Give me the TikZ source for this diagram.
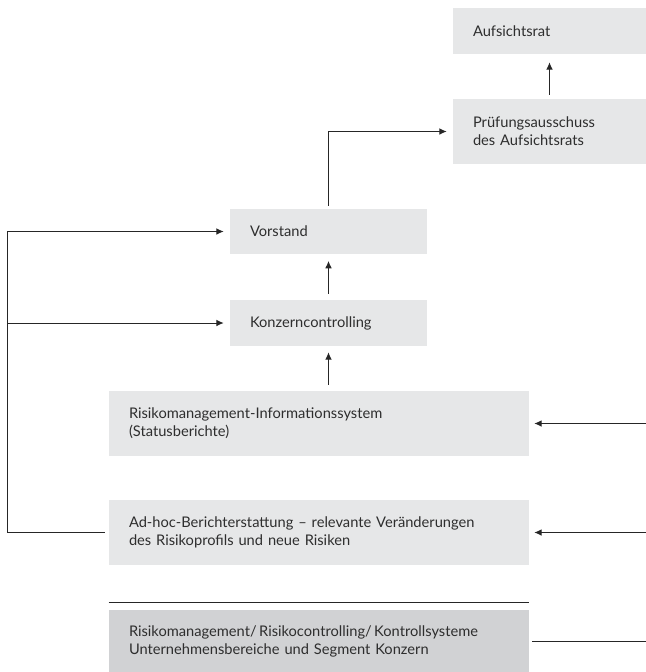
\documentclass[tikz,border=0pt]{standalone}
\usepackage{fontspec}
\setmainfont{Lato}
\usetikzlibrary{arrows.meta,positioning}
\definecolor{boxgray}{HTML}{E6E7E8}
\definecolor{boxdark}{HTML}{D1D2D4}
\definecolor{txtgray}{HTML}{2E2E2E}
\begin{document}
\begin{tikzpicture}[x=0.75pt,y=-0.75pt,
    orgbox/.style={fill=boxgray,inner xsep=15pt,inner ysep=0pt,align=left,
      text=txtgray,font=\fontsize{11}{13.5}\selectfont},
    arr/.style={-{Latex[length=5.5pt,width=5pt]},line width=0.75pt,draw=black!85}]
    \useasboundingbox (0,0) rectangle (646,672);

    \node[orgbox,text width=114.75pt,minimum height=34.5pt] (auf) at (549.5,31) {Aufsichtsrat};
    \node[orgbox,text width=114.75pt,minimum height=48.75pt] (pruef) at (549.5,131.5) {Prüfungsausschuss\\des Aufsichtsrats};
    \node[orgbox,text width=117.75pt,minimum height=33.75pt] (vor) at (328.5,231.5) {Vorstand};
    \node[orgbox,text width=117.75pt,minimum height=34.5pt] (konz) at (328.5,323) {Konzerncontrolling};
    \node[orgbox,text width=285pt,minimum height=48.75pt] (ris) at (319,423.5) {Risikomanagement-Informationssystem\\(Statusberichte)};
    \node[orgbox,text width=285pt,minimum height=48.75pt] (adhoc) at (319,532.5) {Ad-hoc-Berichterstattung -- relevante Veränderungen\\des Risikoprofils und neue Risiken};
    \node[orgbox,fill=boxdark,text width=285pt,minimum height=46.5pt] (bot) at (319,641) {Risikomanagement/\,Risikocontrolling/\,Kontrollsysteme\\Unternehmensbereiche und Segment Konzern};

    \coordinate (lft) at (7,0);
    \coordinate (rgt) at (646,0);

    \draw[arr,shorten <=3pt,shorten >=6pt] (pruef) -- (auf);
    \draw[arr,shorten <=2.25pt,shorten >=4.5pt] (vor.north) |- (pruef.west);
    \draw[arr,shorten <=4.5pt,shorten >=5pt] (konz) -- (vor);
    \draw[arr,shorten <=4.5pt,shorten >=4.5pt] (ris.north -| konz) -- (konz.south);

    \draw[arr,shorten <=3pt,shorten >=4.5pt] (adhoc.west) -- (adhoc.west -| lft) |- (vor.west);
    \draw[arr,shorten >=4.5pt] (konz.west -| lft) -- (konz.west);

    \draw[arr,shorten >=3.75pt] (ris.east -| rgt) -- (ris.east);
    \draw[arr,shorten >=3.75pt] (adhoc.east -| rgt) -- (adhoc.east);
    \draw[line width=0.75pt,draw=black!85,shorten >=2.25pt] (bot.east -| rgt) -- (bot.east);
    \draw[line width=0.75pt,draw=black!85] ([yshift=5.25pt]bot.north west) -- ([yshift=5.25pt]bot.north east);
\end{tikzpicture}
\end{document}
